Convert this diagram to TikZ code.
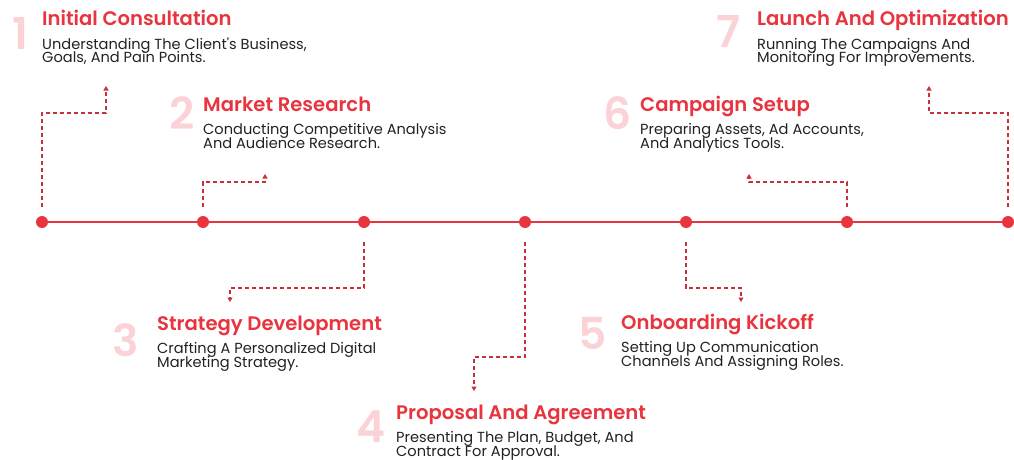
\documentclass[tikz,border=0pt]{standalone}
\usepackage{fontspec}
\setmainfont{Poppins}[BoldFont={Poppins SemiBold}]
\usetikzlibrary{arrows.meta,calc}
\definecolor{mainred}{HTML}{E8343E}
\definecolor{dashred}{HTML}{C9313A}
\definecolor{numpink}{HTML}{FBD3D6}
\definecolor{desccol}{HTML}{222222}
\tikzset{
  dot/.style={circle,fill=mainred,inner sep=0pt,minimum size=12pt},
  conn/.style={draw=dashred,line width=1.1pt,dash pattern=on 4pt off 3pt,-{Triangle[width=5pt,length=4.5pt]}},
  ttl/.style={anchor=base west,inner sep=0pt,text height=14pt,text depth=4pt,text=mainred,font=\fontsize{19.6}{22}\selectfont\bfseries},
  dsc/.style={anchor=base west,inner sep=0pt,text height=10.5pt,text depth=3pt,text=desccol,font=\fontsize{14.6}{15}\selectfont},
  num/.style={anchor=base,inner sep=0pt,text=numpink,font=\fontsize{44}{44}\selectfont\bfseries},
}
\begin{document}
\begin{tikzpicture}[x=1pt,y=-1pt]
\useasboundingbox (0,0) rectangle (1014,460);
% timeline
\node[dot] (d1) at (42,222) {};
\node[dot] (d2) at (203,222) {};
\node[dot] (d3) at (364,222) {};
\node[dot] (d4) at (525,222) {};
\node[dot] (d5) at (686,222) {};
\node[dot] (d6) at (847,222) {};
\node[dot] (d7) at (1008,222) {};
\draw[mainred,line width=2.3pt] (d1) -- (d2) -- (d3) -- (d4) -- (d5) -- (d6) -- (d7);
% corner and tip coordinates
\coordinate (c1) at (106,113); \coordinate (t1) at (106,86);
\coordinate (c2) at (265,182); \coordinate (t2) at (265,174);
\coordinate (c3) at (230,288); \coordinate (t3) at (230,302);
\coordinate (c4) at (474,357); \coordinate (t4) at (474,391);
\coordinate (c5) at (741,288); \coordinate (t5) at (741,302);
\coordinate (c6) at (749,182); \coordinate (t6) at (749,174);
\coordinate (c7) at (929,113); \coordinate (t7) at (929,86);
\draw[conn] ([yshift=9pt]d1.north) |- (c1) -- (t1);
\draw[conn] ([yshift=9pt]d2.north) |- (c2) -- (t2);
\draw[conn] ([yshift=-14pt]d3.south) |- (c3) -- (t3);
\draw[conn] ([yshift=-14pt]d4.south) |- (c4) -- (t4);
\draw[conn] ([yshift=-14pt]d5.south) |- (c5) -- (t5);
\draw[conn] ([yshift=9pt]d6.north) |- (c6) -- (t6);
\draw[conn] ([yshift=9pt]d7.north) |- (c7) -- (t7);
% step 1
\node[num] (n1) at (20,49) {1};
\node[ttl] (h1) at (42,26) {Initial Consultation};
\node[dsc] (a1) at (42,49) {Understanding The Client\textquotesingle s Business,};
\node[dsc] (b1) at (42,63) {Goals, And Pain Points.};
% step 2
\node[num] (n2) at (182,129) {2};
\node[ttl] (h2) at (203,111) {Market Research};
\node[dsc] (a2) at (203,134) {Conducting Competitive Analysis};
\node[dsc] (b2) at (203,148) {And Audience Research.};
% step 3
\node[num] (n3) at (126,356) {3};
\node[ttl] (h3) at (157,330) {Strategy Development};
\node[dsc] (a3) at (157,353) {Crafting A Personalized Digital};
\node[dsc] (b3) at (157,367) {Marketing Strategy.};
% step 4
\node[num] (n4) at (371,442) {4};
\node[ttl] (h4) at (396,419) {Proposal And Agreement};
\node[dsc] (a4) at (396,442) {Presenting The Plan, Budget, And};
\node[dsc] (b4) at (396,456) {Contract For Approval.};
% step 5
\node[num] (n5) at (593,349) {5};
\node[ttl] (h5) at (621,329) {Onboarding Kickoff};
\node[dsc] (a5) at (621,352) {Setting Up Communication};
\node[dsc] (b5) at (621,366) {Channels And Assigning Roles.};
% step 6
\node[num] (n6) at (618,129) {6};
\node[ttl] (h6) at (640,111) {Campaign Setup};
\node[dsc] (a6) at (640,134) {Preparing Assets, Ad Accounts,};
\node[dsc] (b6) at (640,148) {And Analytics Tools.};
% step 7
\node[num] (n7) at (729,48) {7};
\node[ttl] (h7) at (757,26) {Launch And Optimization};
\node[dsc] (a7) at (757,49) {Running The Campaigns And};
\node[dsc] (b7) at (757,63) {Monitoring For Improvements.};
\end{tikzpicture}
\end{document}
